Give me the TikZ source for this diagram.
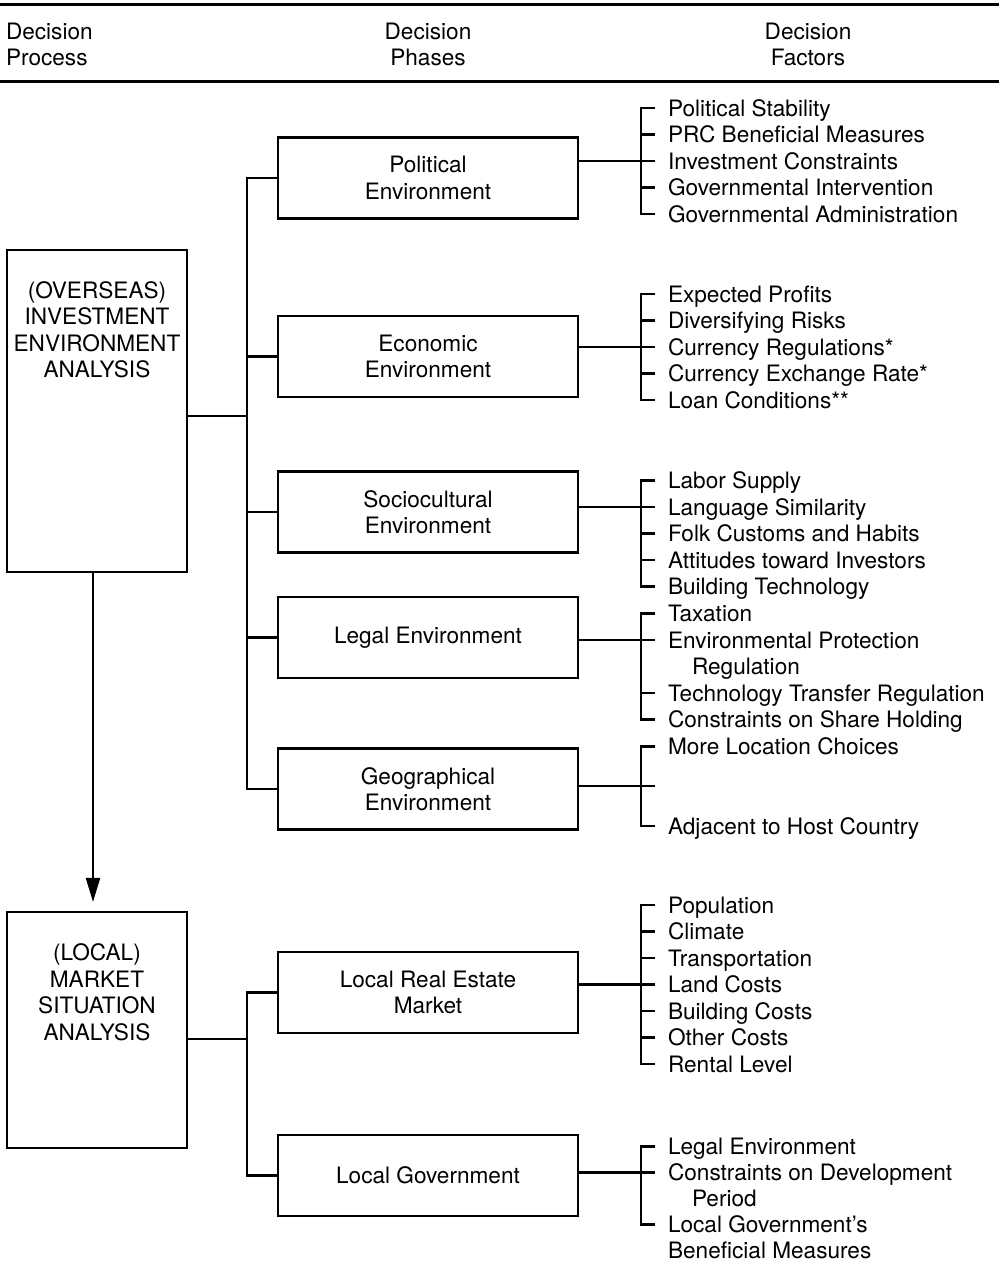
\documentclass[tikz,border=0pt]{standalone}
\usepackage{fontspec}
\setmainfont{TeX Gyre Heros}
\usetikzlibrary{arrows.meta}
\newcommand\diagfont{\fontsize{22.6}{26.5}\selectfont}
\begin{document}
\begin{tikzpicture}[x=1pt, y=-1pt, line width=2.1pt,
  box/.style={draw, line width=2.1pt, minimum width=300pt, minimum height=81pt, inner sep=0pt, align=center, font=\diagfont},
  bigbox/.style={draw, line width=2.1pt, minimum width=180pt, inner sep=0pt},
  btxt/.style={align=center, inner sep=0pt, font=\diagfont},
  fac/.style={anchor=west, inner sep=0pt, text height=16.3pt, text depth=0pt, font=\diagfont},
  hdr/.style={inner sep=0pt, text height=16.3pt, text depth=0pt, font=\diagfont},
  rulel/.style={line width=3pt},
  flow/.style={line width=2.1pt, -{Triangle[length=24pt,width=14pt]}, shorten >=9pt}]
\useasboundingbox (0,0) rectangle (999,1272);

% header rules and headings
\coordinate (rl1) at (0,4); \coordinate (rr1) at (999,4);
\coordinate (rl2) at (0,81); \coordinate (rr2) at (999,81);
\draw[rulel] (rl1) -- (rr1);
\draw[rulel] (rl2) -- (rr2);
\node[hdr, anchor=west] (h1a) at (5,31) {Decision};
\node[hdr, anchor=west] (h1b) at (5,57.5) {Process};
\node[hdr] (h2a) at (428,31) {Decision};
\node[hdr] (h2b) at (428,57.5) {Phases};
\node[hdr] (h3a) at (808,31) {Decision};
\node[hdr] (h3b) at (808,57.5) {Factors};

% process boxes
\node[bigbox, minimum height=322pt] (ovs) at (97,411) {};
\node[btxt] (ovst) at (97,330) {(OVERSEAS)\\INVESTMENT\\ENVIRONMENT\\ANALYSIS};
\node[bigbox, minimum height=236pt] (loc) at (97,1030) {};
\node[btxt] (loct) at (97,992) {(LOCAL)\\MARKET\\SITUATION\\ANALYSIS};

% phase boxes
\node[box] (pol) at (428,178) {Political\\Environment};
\node[box] (eco) at (428,356.5) {Economic\\Environment};
\node[box] (soc) at (428,512) {Sociocultural\\Environment};
\node[box] (leg) at (428,637.5) {Legal Environment};
\node[box] (geo) at (428,789) {Geographical\\Environment};
\node[box] (lre) at (428,992.5) {Local Real Estate\\Market};
\node[box] (lgv) at (428,1175.5) {Local Government};

% arrow between process boxes
\coordinate (ax) at (93,0);
\draw[flow] (ovs.south -| ax) -- (loc.north -| ax);

% buses
\coordinate (busx) at (247,0);
\coordinate (j1) at (247,416);
\coordinate (j2) at (247,1039);
\draw (pol.west) -- (pol.west -| busx) -- (geo.west -| busx) -- (geo.west);
\draw (eco.west) -- (eco.west -| busx);
\draw (soc.west) -- (soc.west -| busx);
\draw (leg.west) -- (leg.west -| busx);
\draw (ovs.east |- j1) -- (j1);
\draw (lre.west) -- (lre.west -| busx) -- (lgv.west -| busx) -- (lgv.west);
\draw (loc.east |- j2) -- (j2);

% ---------- factors: political
\node[fac] (p1) at (667,108) {Political Stability};
\node[fac] (p2) at (667,134.5) {PRC Beneficial Measures};
\node[fac] (p3) at (667,161) {Investment Constraints};
\node[fac] (p4) at (667,187.5) {Governmental Intervention};
\node[fac] (p5) at (667,214) {Governmental Administration};
\draw ([xshift=-12pt]p1.west) -- ([xshift=-26pt]p1.west) -- ([xshift=-26pt]p5.west) -- ([xshift=-12pt]p5.west);
\draw ([xshift=-26pt]p2.west) -- ([xshift=-12pt]p2.west);
\draw ([xshift=-26pt]p4.west) -- ([xshift=-12pt]p4.west);
\draw (pol.east |- p3.west) -- ([xshift=-12pt]p3.west);

% economic
\node[fac] (e1) at (667,294) {Expected Profits};
\node[fac] (e2) at (667,320.5) {Diversifying Risks};
\node[fac] (e3) at (667,347) {Currency Regulations*};
\node[fac] (e4) at (667,373.5) {Currency Exchange Rate*};
\node[fac] (e5) at (667,400) {Loan Conditions**};
\draw ([xshift=-12pt]e1.west) -- ([xshift=-26pt]e1.west) -- ([xshift=-26pt]e5.west) -- ([xshift=-12pt]e5.west);
\draw ([xshift=-26pt]e2.west) -- ([xshift=-12pt]e2.west);
\draw ([xshift=-26pt]e4.west) -- ([xshift=-12pt]e4.west);
\draw (eco.east |- e3.west) -- ([xshift=-12pt]e3.west);

% sociocultural
\node[fac] (s1) at (667,480.5) {Labor Supply};
\node[fac] (s2) at (667,507) {Language Similarity};
\node[fac] (s3) at (667,533.5) {Folk Customs and Habits};
\node[fac] (s4) at (667,560) {Attitudes toward Investors};
\node[fac] (s5) at (667,586.5) {Building Technology};
\draw ([xshift=-12pt]s1.west) -- ([xshift=-26pt]s1.west) -- ([xshift=-26pt]s5.west) -- ([xshift=-12pt]s5.west);
\draw ([xshift=-26pt]s3.west) -- ([xshift=-12pt]s3.west);
\draw ([xshift=-26pt]s4.west) -- ([xshift=-12pt]s4.west);
\draw (soc.east |- s2.west) -- ([xshift=-12pt]s2.west);

% legal
\node[fac] (l1) at (667,613.5) {Taxation};
\node[fac] (l2) at (667,640) {Environmental Protection};
\node[fac] (l2b) at (691,666.5) {Regulation};
\node[fac] (l3) at (667,693) {Technology Transfer Regulation};
\node[fac] (l4) at (667,719.5) {Constraints on Share Holding};
\draw ([xshift=-12pt]l1.west) -- ([xshift=-26pt]l1.west) -- ([xshift=-26pt]l4.west) -- ([xshift=-12pt]l4.west);
\draw ([xshift=-26pt]l3.west) -- ([xshift=-12pt]l3.west);
\draw (leg.east |- l2.west) -- ([xshift=-12pt]l2.west);

% geographical
\node[fac] (g1) at (667,746.5) {More Location Choices};
\node[fac] (g2) at (667,826) {Adjacent to Host Country};
\coordinate (gm) at (655,786.25);
\draw ([xshift=-12pt]g1.west) -- ([xshift=-26pt]g1.west) -- ([xshift=-26pt]g2.west) -- ([xshift=-12pt]g2.west);
\draw (geo.east |- gm) -- (gm);

% local real estate market
\node[fac] (r1) at (667,905) {Population};
\node[fac] (r2) at (667,931.5) {Climate};
\node[fac] (r3) at (667,958) {Transportation};
\node[fac] (r4) at (667,984.5) {Land Costs};
\node[fac] (r5) at (667,1011) {Building Costs};
\node[fac] (r6) at (667,1037.5) {Other Costs};
\node[fac] (r7) at (667,1064) {Rental Level};
\draw ([xshift=-12pt]r1.west) -- ([xshift=-26pt]r1.west) -- ([xshift=-26pt]r7.west) -- ([xshift=-12pt]r7.west);
\draw ([xshift=-26pt]r2.west) -- ([xshift=-12pt]r2.west);
\draw ([xshift=-26pt]r3.west) -- ([xshift=-12pt]r3.west);
\draw ([xshift=-26pt]r5.west) -- ([xshift=-12pt]r5.west);
\draw ([xshift=-26pt]r6.west) -- ([xshift=-12pt]r6.west);
\draw (lre.east |- r4.west) -- ([xshift=-12pt]r4.west);

% local government
\node[fac] (v1) at (667,1146.5) {Legal Environment};
\node[fac] (v2) at (667,1172.5) {Constraints on Development};
\node[fac] (v2b) at (691,1198.5) {Period};
\node[fac] (v3) at (667,1224.5) {Local Government’s};
\node[fac] (v3b) at (667,1250.5) {Beneficial Measures};
\draw ([xshift=-12pt]v1.west) -- ([xshift=-26pt]v1.west) -- ([xshift=-26pt]v3.west) -- ([xshift=-12pt]v3.west);
\draw (lgv.east |- v2.west) -- ([xshift=-12pt]v2.west);
\end{tikzpicture}
\end{document}
